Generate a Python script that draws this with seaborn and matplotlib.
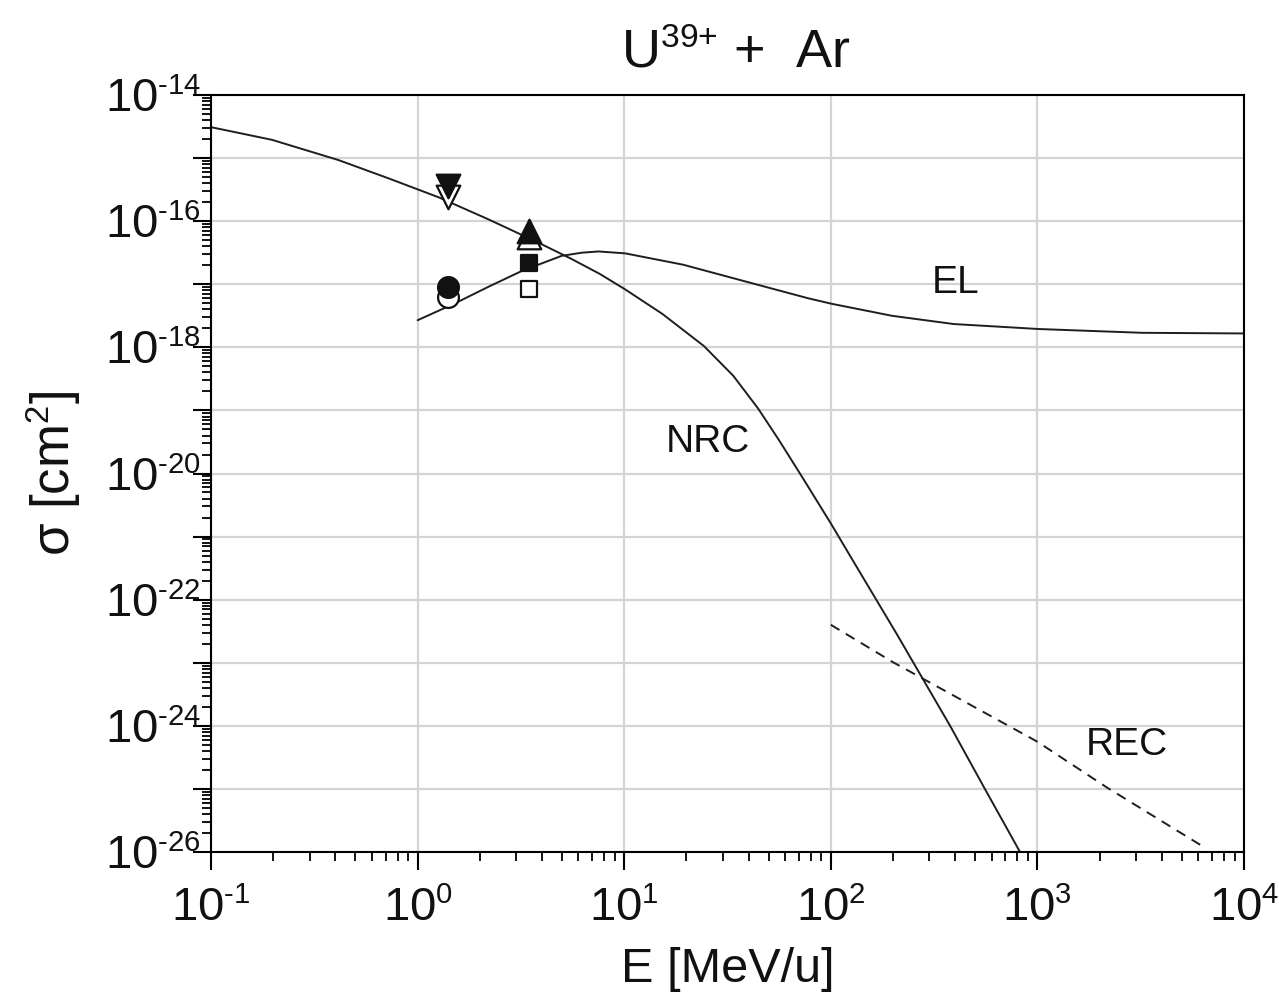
import matplotlib
matplotlib.use("Agg")
import matplotlib.pyplot as plt
import matplotlib.ticker as mticker
import matplotlib._mathtext as _mt
import numpy as np
import pandas as pd
import seaborn as sns

# ---- data ----
nrc_E = [0.1, 0.197, 0.413, 0.721, 1.26, 2.20, 3.84, 5.57, 7.64, 10.1, 15.3, 24.3,
         33.7, 44.5, 56.1, 74.1, 100, 129, 209, 275, 378, 557, 824]
nrc_sigma = [3.09e-15, 1.95e-15, 9.33e-16, 4.79e-16, 2.40e-16, 1.07e-16, 4.57e-17,
             2.51e-17, 1.45e-17, 8.3e-18, 3.39e-18, 1.05e-18, 3.55e-19, 1.07e-19,
             3.39e-20, 7.94e-21, 1.62e-21, 3.98e-22, 2.82e-23, 6.0e-24,
             1.0e-24, 1.0e-25, 1.0e-26]

el_E = [1.0, 1.52, 2.20, 3.19, 4.98, 6.22, 7.50, 10.1, 19.3, 38.9, 77.6, 101, 198,
        394, 1019, 3206, 10000]
el_sigma = [2.69e-18, 5.0e-18, 9.1e-18, 1.62e-17, 2.82e-17, 3.16e-17, 3.31e-17,
            3.09e-17, 2.04e-17, 1.10e-17, 6.0e-18, 4.9e-18, 3.16e-18, 2.34e-18,
            1.95e-18, 1.70e-18, 1.66e-18]

rec_E = [100, 200, 1000, 2173, 6470]
rec_sigma = [4.0e-23, 1.02e-23, 5.6e-25, 1.05e-25, 1.17e-26]

# experimental points (open ones drawn first, filled on top)
pt_E = [1.40, 1.40, 1.40, 1.40, 3.46, 3.46, 3.46, 3.46]
pt_sigma = [2.45e-16, 3.6e-16, 6.3e-18, 8.9e-18, 5.6e-17, 6.9e-17, 8.5e-18, 2.14e-17]
pt_marker = ["v", "v", "o", "o", "^", "^", "s", "s"]
pt_filled = [False, True, False, True, False, True, False, True]
pt_size = [17, 17, 15, 15, 17, 17, 12, 12]

x_min, x_max = 0.1, 1e4
y_min, y_max = 1e-26, 1e-14

# ---- style ----
sns.set_theme(style="white")
plt.rcParams["font.family"] = ["Liberation Sans", "DejaVu Sans"]
plt.rcParams["mathtext.fontset"] = "custom"
plt.rcParams["mathtext.rm"] = "Liberation Sans"
plt.rcParams["mathtext.it"] = "Liberation Sans"
plt.rcParams["mathtext.bf"] = "Liberation Sans"
plt.rcParams["mathtext.sf"] = "Liberation Sans"
_mt.SHRINK_FACTOR = 0.62

fig = plt.figure(figsize=(12.79, 10.02), dpi=100)
ax = fig.add_axes([211 / 1279, 1 - 852 / 1002, (1244 - 211) / 1279, (852 - 95) / 1002])

lw = 1.4
line_col = "#1e1e1e"
sns.lineplot(data=pd.DataFrame({"E": nrc_E, "s": nrc_sigma}), x="E", y="s", ax=ax,
             color=line_col, lw=lw, sort=False, estimator=None)
sns.lineplot(data=pd.DataFrame({"E": el_E, "s": el_sigma}), x="E", y="s", ax=ax,
             color=line_col, lw=lw, sort=False, estimator=None)
sns.lineplot(data=pd.DataFrame({"E": rec_E, "s": rec_sigma}), x="E", y="s", ax=ax,
             color=line_col, lw=lw, sort=False, estimator=None)
ax.lines[-1].set_dashes([5.2, 3.8])
for ln in ax.lines:
    ln.set_solid_joinstyle("round")

for e, s, m, f, ms in zip(pt_E, pt_sigma, pt_marker, pt_filled, pt_size):
    sns.scatterplot(x=[e], y=[s], ax=ax, marker=m, s=ms ** 2,
                    color="#111111" if f else "white", edgecolor="#111111",
                    linewidth=1.6, zorder=5)

ax.set_xscale("log")
ax.set_yscale("log")
ax.set_xlim(x_min, x_max)
ax.set_ylim(y_min, y_max)

ax.xaxis.set_major_locator(mticker.LogLocator(base=10, numticks=20))
ax.xaxis.set_minor_locator(mticker.LogLocator(base=10, subs=np.arange(2, 10), numticks=20))
ax.yaxis.set_major_locator(mticker.LogLocator(base=10, numticks=30))
ax.yaxis.set_minor_locator(mticker.LogLocator(base=10, subs=np.arange(2, 10), numticks=30))
ax.xaxis.set_minor_formatter(mticker.NullFormatter())
ax.yaxis.set_minor_formatter(mticker.NullFormatter())


def sci(e):
    s = str(e).replace("-", "\u2010")
    return r"$\mathregular{10^{%s}}$" % s


def xfmt(v, pos):
    return sci(int(round(np.log10(v))))


def yfmt(v, pos):
    e = int(round(np.log10(v)))
    return sci(e) if e % 2 == 0 else ""


ax.xaxis.set_major_formatter(mticker.FuncFormatter(xfmt))
ax.yaxis.set_major_formatter(mticker.FuncFormatter(yfmt))

ax.grid(True, which="major", color="#d4d4d4", lw=1.6)
ax.set_axisbelow(True)
for sp in ax.spines.values():
    sp.set_color("black")
    sp.set_linewidth(1.5)
    sp.set_visible(True)

ax.tick_params(axis="both", which="major", direction="out", length=13, width=1.5,
               color="black", labelsize=34, labelcolor="#111111")
ax.tick_params(axis="x", which="major", pad=12)
ax.tick_params(axis="y", which="major", pad=-6)
ax.tick_params(axis="both", which="minor", direction="out", length=6.5, width=1.3,
               color="black")
ax.tick_params(left=True, bottom=True, top=False, right=False)
ax.tick_params(which="minor", left=True, bottom=True, top=False, right=False)

ax.set_xlabel("E [MeV/u]", fontsize=35, color="#111111", labelpad=12)
ax.set_ylabel(r"σ [cm$^\mathregular{2}$]", fontsize=38, color="#111111", labelpad=16)
ax.set_title(r"U$^\mathregular{39{+}}$ +  Ar", fontsize=39, color="#111111", pad=20,
             x=0.508)

ax.text(400, 1.05e-17, "EL", fontsize=28, ha="center", va="center", color="#111111")
ax.text(25.5, 3.2e-20, "NRC", fontsize=28, ha="center", va="center", color="#111111")
ax.text(2717, 5.0e-25, "REC", fontsize=28, ha="center", va="center", color="#111111")

fig.savefig("out.png", dpi=100)
